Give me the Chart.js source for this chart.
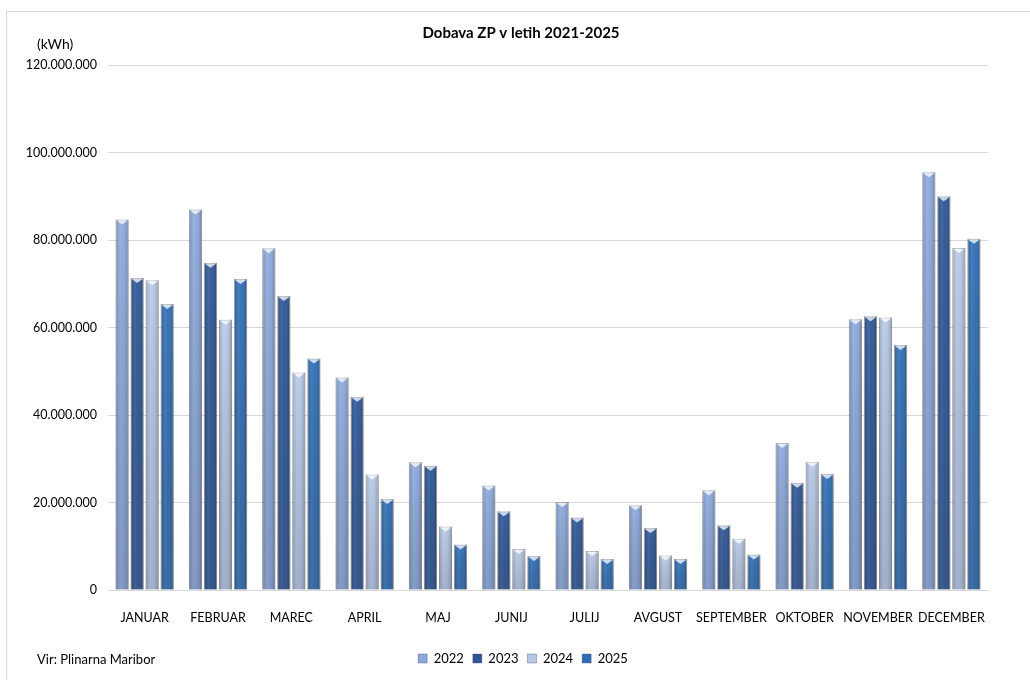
<!DOCTYPE html>
<html>
<head>
<meta charset="utf-8">
<script src="https://cdn.jsdelivr.net/npm/chart.js@4"></script>
<style>
  body { margin: 0; background: #fff; font-family: Lato, sans-serif; }
  #wrap { position: relative; width: 1030px; height: 680px; }
  #frame { position: absolute; left: 6px; top: 11px; right: 0; bottom: 0; border-top: 1px solid #d9d9d9; border-left: 1px solid #d9d9d9; }
  #unit { position: absolute; left: 37px; top: 35px; font-size: 14px; color: #000; }
  #source { position: absolute; left: 37px; top: 651px; font-size: 13px; color: #000; }
  canvas { position: absolute; left: 0; top: 0; }
</style>
</head>
<body>
<div id="wrap">
  <div id="frame"></div>
  <canvas id="chart" width="1030" height="680"></canvas>
  <div id="unit">(kWh)</div>
  <div id="source">Vir: Plinarna Maribor</div>
</div>
<script>
// Data (values in kWh)
const months = ['JANUAR', 'FEBRUAR', 'MAREC', 'APRIL', 'MAJ', 'JUNIJ', 'JULIJ', 'AVGUST', 'SEPTEMBER', 'OKTOBER', 'NOVEMBER', 'DECEMBER'];
const years = ['2022', '2023', '2024', '2025'];
const y2022 = [84700000, 87000000, 78100000, 48600000, 29200000, 23900000, 20100000, 19400000, 22800000, 33600000, 61900000, 95500000];
const y2023 = [71300000, 74800000, 67200000, 44200000, 28400000, 18000000, 16600000, 14200000, 14800000, 24500000, 62600000, 90000000];
const y2024 = [70800000, 61800000, 49700000, 26400000, 14500000, 9400000, 8900000, 7900000, 11700000, 29300000, 62300000, 78200000];
const y2025 = [65400000, 71100000, 52900000, 20800000, 10400000, 7800000, 7100000, 7100000, 8100000, 26500000, 56000000, 80300000];
const colors = ['#8ca8dc', '#2c5596', '#b7c8e6', '#2e6db4'];

function fmt(v) {
    return String(v).replace(/\B(?=(\d{3})+(?!\d))/g, '.');
}

// shading over each bar so it looks like the rounded Excel bars
const barShade = {
    id: 'barShade',
    afterLayout(chart) {
        // title and legend sit a bit right of the canvas centre in the original
        chart.legend.left += 38;
        chart.titleBlock.left += 34;
    },
    afterDatasetsDraw(chart) {
        const ctx = chart.ctx;
        chart.data.datasets.forEach((ds, i) => {
            const meta = chart.getDatasetMeta(i);
            meta.data.forEach(bar => {
                const left = bar.x - bar.width / 2;
                const right = bar.x + bar.width / 2;
                const top = bar.y, base = bar.base;
                ctx.save();
                let g = ctx.createLinearGradient(left, 0, right, 0);
                g.addColorStop(0, 'rgba(0,0,0,0.18)');
                g.addColorStop(0.35, 'rgba(255,255,255,0.12)');
                g.addColorStop(0.55, 'rgba(255,255,255,0.05)');
                g.addColorStop(1, 'rgba(0,0,0,0.25)');
                ctx.fillStyle = g;
                ctx.fillRect(left, top, bar.width, base - top);
                let v = ctx.createLinearGradient(0, top, 0, base);
                v.addColorStop(0, 'rgba(0,0,0,0)');
                v.addColorStop(1, 'rgba(40,50,70,0.18)');
                ctx.fillStyle = v;
                ctx.fillRect(left, top, bar.width, base - top);
                // top bevel
                ctx.beginPath();
                ctx.moveTo(left + 1, top + 1);
                ctx.lineTo(right - 1, top + 1);
                ctx.lineTo(bar.x, top + 5);
                ctx.closePath();
                ctx.fillStyle = 'rgba(255,255,255,0.75)';
                ctx.fill();
                ctx.restore();
            });
        });
    }
};

new Chart(document.getElementById('chart'), {
    type: 'bar',
    data: {
        labels: months,
        datasets: [y2022, y2023, y2024, y2025].map((d, i) => ({
            label: years[i],
            data: d,
            backgroundColor: colors[i],
            borderColor: 'rgba(60,70,90,0.35)',
            borderWidth: 1,
            categoryPercentage: 0.82,
            barPercentage: 0.87
        }))
    },
    options: {
        responsive: false,
        animation: false,
        layout: { padding: { left: 20, right: 42, top: 0, bottom: 5 } },
        plugins: {
            title: {
                display: true,
                text: 'Dobava ZP v letih 2021-2025',
                color: '#000',
                font: { family: 'Lato', size: 15, weight: 'bold' },
                padding: { top: 24, bottom: 23 }
            },
            legend: {
                position: 'bottom',
                labels: {
                    color: '#000',
                    font: { family: 'Lato', size: 13 },
                    boxWidth: 9,
                    boxHeight: 9,
                    padding: 9
                }
            },
            tooltip: { enabled: false }
        },
        scales: {
            x: {
                grid: { display: false },
                border: { color: '#d9d9d9' },
                ticks: { color: '#000', font: { family: 'Lato', size: 12.5 }, padding: 12, maxRotation: 0, autoSkip: false },
                afterFit(s) { s.height = 53; }
            },
            y: {
                min: 0,
                max: 120000000,
                grid: { color: '#d9d9d9', drawTicks: false },
                border: { display: false },
                ticks: {
                    stepSize: 20000000,
                    color: '#000',
                    font: { family: 'Lato', size: 12.5 },
                    padding: 11,
                    callback: v => fmt(v)
                },
                afterFit(s) { s.width = 88; }
            }
        }
    },
    plugins: [barShade]
});
</script>
</body>
</html>
